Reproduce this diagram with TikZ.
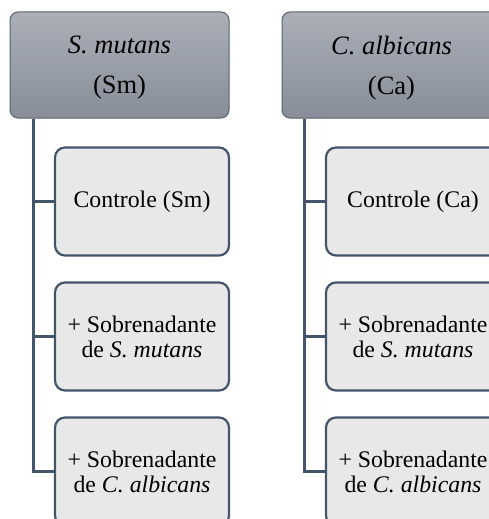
\documentclass[tikz,border=0pt]{standalone}
\usepackage{fontspec}
\setmainfont{Liberation Serif}
\definecolor{linec}{HTML}{44546A}
\definecolor{childfill}{HTML}{E8E8E8}
\definecolor{topA}{HTML}{AAAFB8}
\definecolor{topB}{HTML}{888E99}
\definecolor{topborder}{HTML}{5B6068}
\tikzset{
  topbox/.style={draw=topborder, line width=1pt, rounded corners=8pt,
    top color=topA, bottom color=topB, minimum width=219pt, minimum height=106pt,
    inner sep=0pt},
  toptext/.style={yshift=-3pt, align=center, inner sep=0pt,
    font=\fontsize{26.5}{40}\selectfont},
  childbox/.style={draw=linec, line width=2.2pt, rounded corners=10pt,
    fill=childfill, minimum width=174pt, minimum height=108pt,
    align=center, inner sep=0pt, font=\fontsize{23.8}{25}\selectfont},
  conn/.style={draw=linec, line width=2.6pt}
}
\begin{document}
\begin{tikzpicture}[x=1pt,y=-1pt]
\useasboundingbox (0,0) rectangle (489,519);
\clip (0,0) rectangle (489,519);
% left column
\node[topbox, label={[toptext]center:{\textit{S. mutans}\\(Sm)}}] (lt) at (119.5,65) {};
\node[childbox] (l1) at (142,201.5) {Controle (Sm)};
\node[childbox] (l2) at (142,336.5) {+ Sobrenadante\\de \textit{S. mutans}};
\node[childbox] (l3) at (142,471.5) {+ Sobrenadante\\de \textit{C. albicans}};
% right column
\node[topbox, label={[toptext]center:{\textit{C. albicans}\\(Ca)}}] (rt) at (391.5,65) {};
\node[childbox] (r1) at (413,201.5) {Controle (Ca)};
\node[childbox] (r2) at (413,336.5) {+ Sobrenadante\\de \textit{S. mutans}};
\node[childbox] (r3) at (413,471.5) {+ Sobrenadante\\de \textit{C. albicans}};
% trunks
\coordinate (ltr) at ([xshift=24pt]lt.south west);
\coordinate (rtr) at ([xshift=23pt]rt.south west);
\draw[conn] (ltr) |- (l3.west);
\draw[conn] (l1.west) -- (l1.west -| ltr);
\draw[conn] (l2.west) -- (l2.west -| ltr);
\draw[conn] (rtr) |- (r3.west);
\draw[conn] (r1.west) -- (r1.west -| rtr);
\draw[conn] (r2.west) -- (r2.west -| rtr);
\end{tikzpicture}
\end{document}
